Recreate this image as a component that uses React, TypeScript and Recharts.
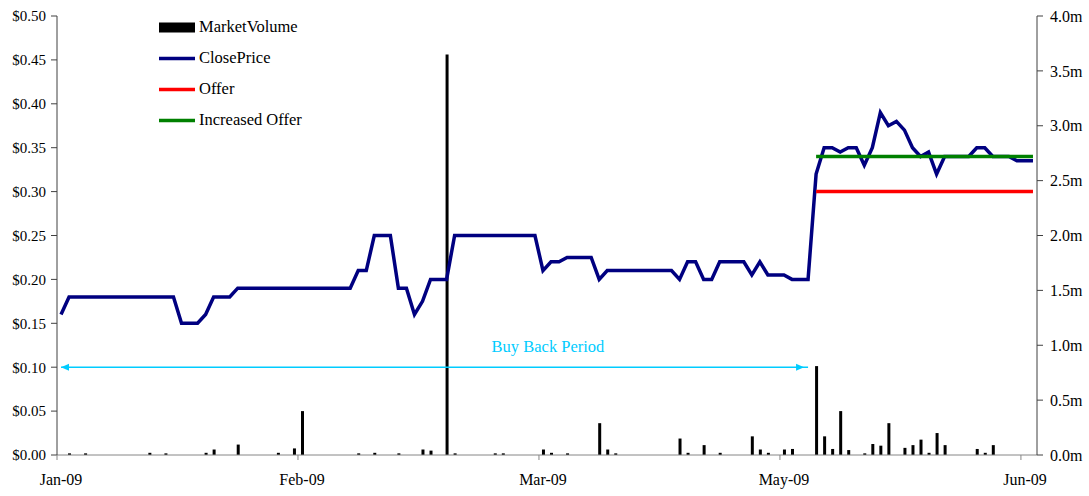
import React from 'react';
import { ComposedChart, Bar, Line, XAxis, YAxis, Legend } from 'recharts';

// ---- data ----
const closePrice: number[] = [
  0.16, 0.18, 0.18, 0.18, 0.18, 0.18, 0.18, 0.18, 0.18, 0.18,
  0.18, 0.18, 0.18, 0.18, 0.18, 0.15, 0.15, 0.15, 0.16, 0.18,
  0.18, 0.18, 0.19, 0.19, 0.19, 0.19, 0.19, 0.19, 0.19, 0.19,
  0.19, 0.19, 0.19, 0.19, 0.19, 0.19, 0.19, 0.21, 0.21, 0.25,
  0.25, 0.25, 0.19, 0.19, 0.16, 0.175, 0.2, 0.2, 0.2, 0.25,
  0.25, 0.25, 0.25, 0.25, 0.25, 0.25, 0.25, 0.25, 0.25, 0.25,
  0.21, 0.22, 0.22, 0.225, 0.225, 0.225, 0.225, 0.2, 0.21, 0.21,
  0.21, 0.21, 0.21, 0.21, 0.21, 0.21, 0.21, 0.2, 0.22, 0.22,
  0.2, 0.2, 0.22, 0.22, 0.22, 0.22, 0.205, 0.22, 0.205, 0.205,
  0.205, 0.2, 0.2, 0.2, 0.32, 0.35, 0.35, 0.345, 0.35, 0.35,
  0.33, 0.35, 0.39, 0.375, 0.38, 0.37, 0.35, 0.34, 0.345, 0.32,
  0.34, 0.34, 0.34, 0.34, 0.35, 0.35, 0.34, 0.34, 0.34, 0.335,
  0.335, 0.335,
];

// market volume in millions
const marketVolume: number[] = [
  0, 0.015, 0, 0.015, 0, 0, 0, 0, 0, 0,
  0, 0.02, 0, 0.015, 0, 0, 0, 0, 0.02, 0.05,
  0, 0, 0.095, 0, 0, 0, 0, 0.02, 0, 0.06,
  0.4, 0, 0, 0, 0, 0, 0, 0.015, 0, 0.02,
  0, 0, 0.015, 0, 0, 0.05, 0.04, 0, 3.65, 0.015,
  0, 0, 0, 0, 0.015, 0.015, 0, 0, 0, 0,
  0.05, 0.02, 0, 0.015, 0, 0, 0, 0.29, 0.05, 0.015,
  0, 0, 0, 0, 0, 0, 0, 0.15, 0.02, 0,
  0.09, 0, 0.02, 0, 0, 0, 0.17, 0.05, 0.02, 0,
  0.05, 0.055, 0, 0, 0.81, 0.17, 0.055, 0.4, 0.045, 0,
  0.015, 0.1, 0.085, 0.29, 0, 0.065, 0.09, 0.14, 0.02, 0.2,
  0.09, 0, 0, 0, 0.055, 0.02, 0.09, 0, 0, 0,
  0, 0,
];

const offerValue = 0.3;
const increasedOfferValue = 0.34;
const offerStartIndex = 94;
const buyBackValue = 0.1;
const buyBackEndIndex = 93;
const buyBackLabelIndex = 60;

const xTickIndices: number[] = [0, 30, 60, 90, 120];
const xTickLabels: string[] = ['Jan-09', 'Feb-09', 'Mar-09', 'May-09', 'Jun-09'];
const priceTicks: number[] = [0, 0.05, 0.1, 0.15, 0.2, 0.25, 0.3, 0.35, 0.4, 0.45, 0.5];
const volumeTicks: number[] = [0, 0.5, 1, 1.5, 2, 2.5, 3, 3.5, 4];

const seriesNames = ['MarketVolume', 'ClosePrice', 'Offer', 'Increased Offer'];

// ---- layout / style ----
const W = 1089;
const H = 496;
const LEFT_AXIS_W = 57;
const RIGHT_AXIS_W = 52;
const X_AXIS_H = 41;
const TOP = 16;
const PLOT_W = W - LEFT_AXIS_W - RIGHT_AXIS_W;
const BAND = PLOT_W / closePrice.length;

const FONT = "'Liberation Serif', 'Times New Roman', serif";
const NAVY = '#000080';
const RED = '#FF0000';
const GREEN = '#008000';
const CYAN = '#00CCFF';
const AXIS_DARK = '#404040';
const AXIS_GREY = '#868686';

const data = closePrice.map((p, i) => ({
  i,
  price: p,
  vol: marketVolume[i],
  offer: i >= offerStartIndex ? offerValue : null,
  incOffer: i >= offerStartIndex ? increasedOfferValue : null,
  buyBack: i <= buyBackEndIndex ? buyBackValue : null,
}));

const XTick = (props: any) => {
  const { x, y, payload } = props;
  const idx = xTickIndices.indexOf(payload.value);
  const lx = x - BAND / 2;
  return (
    <g>
      <line x1={lx} y1={y - 24} x2={lx} y2={y - 19} stroke={AXIS_GREY} strokeWidth={1} />
      <text x={x} y={y} textAnchor="middle" dominantBaseline="central" fill="#000" fontSize={16} fontFamily={FONT}>
        {idx >= 0 ? xTickLabels[idx] : ''}
      </text>
    </g>
  );
};

const BuyBackDot = (props: any) => {
  const { cx, cy, index } = props;
  if (cx == null || cy == null) return <g key={`bb-${index}`} />;
  if (index === 0) {
    return (
      <polygon key={`bb-${index}`} points={`${cx},${cy} ${cx + 8},${cy - 3.5} ${cx + 8},${cy + 3.5}`} fill={CYAN} />
    );
  }
  if (index === buyBackEndIndex) {
    return (
      <polygon key={`bb-${index}`} points={`${cx - 4},${cy} ${cx - 12},${cy - 3.5} ${cx - 12},${cy + 3.5}`} fill={CYAN} />
    );
  }
  if (index === buyBackLabelIndex) {
    return (
      <text key={`bb-${index}`} x={cx + 5} y={cy - 21} textAnchor="middle" dominantBaseline="central" fill={CYAN} fontSize={16.5} fontFamily={FONT}>
        Buy Back Period
      </text>
    );
  }
  return <g key={`bb-${index}`} />;
};

const LegendContent = () => {
  const icons = [
    <rect x={0} y={10.5} width={36} height={10} fill="#000" />,
    <line x1={0} y1={15.5} x2={36} y2={15.5} stroke={NAVY} strokeWidth={3.5} />,
    <line x1={0} y1={15.5} x2={36} y2={15.5} stroke={RED} strokeWidth={3.5} />,
    <line x1={0} y1={15.5} x2={36} y2={15.5} stroke={GREEN} strokeWidth={3.5} />,
  ];
  return (
    <div style={{ fontFamily: FONT, fontSize: 16.5, color: '#000' }}>
      {seriesNames.map((name, k) => (
        <div key={name} style={{ display: 'flex', alignItems: 'center', height: 31 }}>
          <svg width={36} height={31} style={{ display: 'block' }}>{icons[k]}</svg>
          <span style={{ marginLeft: 4, whiteSpace: 'nowrap' }}>{name}</span>
        </div>
      ))}
    </div>
  );
};

export default function App() {
  return (
    <div style={{ position: 'absolute', left: 0, top: 0, width: W, height: H, background: '#fff' }}>
      <ComposedChart width={W} height={H} data={data} margin={{ top: TOP, right: 0, bottom: 0, left: 0 }}>
        <XAxis
          dataKey="i"
          type="category"
          height={X_AXIS_H}
          ticks={xTickIndices}
          interval={0}
          tick={<XTick />}
          tickLine={false}
          tickSize={5}
          tickMargin={19}
          axisLine={{ stroke: AXIS_GREY }}
        />
        <YAxis
          yAxisId="price"
          orientation="left"
          width={LEFT_AXIS_W}
          domain={[0, 0.5]}
          ticks={priceTicks}
          interval={0}
          tickFormatter={(v: number) => `$${v.toFixed(2)}`}
          tick={{ fill: '#000', fontSize: 15, fontFamily: FONT }}
          tickSize={6}
          tickMargin={5}
          tickLine={{ stroke: AXIS_DARK }}
          axisLine={{ stroke: AXIS_DARK }}
        />
        <YAxis
          yAxisId="vol"
          orientation="right"
          width={RIGHT_AXIS_W}
          domain={[0, 4]}
          ticks={volumeTicks}
          interval={0}
          tickFormatter={(v: number) => `${v.toFixed(1)}m`}
          tick={{ fill: '#000', fontSize: 16, fontFamily: FONT }}
          tickSize={6}
          tickMargin={7}
          tickLine={{ stroke: AXIS_DARK }}
          axisLine={{ stroke: AXIS_DARK }}
        />
        <Legend
          layout="vertical"
          align="center"
          verticalAlign="middle"
          content={<LegendContent />}
          wrapperStyle={{ position: 'absolute', left: 159, top: 11.5, width: 'auto', height: 'auto' }}
        />
        <Line
          yAxisId="price"
          dataKey="buyBack"
          stroke={CYAN}
          strokeWidth={1.5}
          dot={<BuyBackDot />}
          activeDot={false}
          isAnimationActive={false}
          legendType="none"
        />
        <Line
          yAxisId="price"
          dataKey="price"
          name="ClosePrice"
          stroke={NAVY}
          strokeWidth={3.5}
          dot={false}
          activeDot={false}
          isAnimationActive={false}
          type="linear"
        />
        <Line
          yAxisId="price"
          dataKey="offer"
          name="Offer"
          stroke={RED}
          strokeWidth={3.5}
          dot={false}
          activeDot={false}
          isAnimationActive={false}
        />
        <Line
          yAxisId="price"
          dataKey="incOffer"
          name="Increased Offer"
          stroke={GREEN}
          strokeWidth={3.5}
          dot={false}
          activeDot={false}
          isAnimationActive={false}
        />
        <Bar
          yAxisId="vol"
          dataKey="vol"
          name="MarketVolume"
          fill="#000"
          barSize={3}
          isAnimationActive={false}
        />
      </ComposedChart>
    </div>
  );
}
